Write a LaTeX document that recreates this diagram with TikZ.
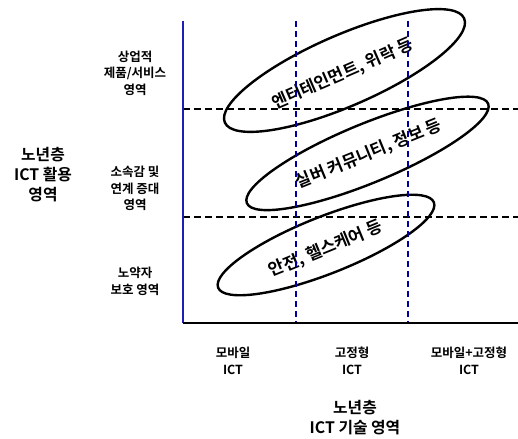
\documentclass[tikz,border=0pt]{standalone}
\usepackage{fontspec}
\setmainfont{Noto Sans CJK KR}
\newfontfamily\krb{Noto Sans CJK KR Bold}
\usetikzlibrary{shapes.geometric}
\definecolor{axisblue}{RGB}{30,30,180}
\definecolor{dashblue}{RGB}{0,0,160}
\tikzset{
  lab/.style={font=\krb\fontsize{12.5}{16.5}\selectfont, align=center, inner sep=0},
  biglab/.style={font=\krb\fontsize{15.8}{20}\selectfont, align=center, inner sep=0},
  oval/.style={draw, ellipse, line width=2.4pt, inner sep=0},
  ovtext/.style={font=\krb\fontsize{16.8}{18}\selectfont, inner sep=0},
  hdash/.style={draw=black, line width=2pt, dash pattern=on 7pt off 4pt},
  vdash/.style={draw=dashblue, line width=2pt, dash pattern=on 6pt off 4pt},
}
\begin{document}
\begin{tikzpicture}[x=1pt,y=-1pt]
\fill[white] (0,0) rectangle (518,438);
\useasboundingbox (0,0) rectangle (518,438);
% axes coordinates
\coordinate (O) at (183,323);
\coordinate (ytop) at (183,21);
\coordinate (xend) at (518,323);
\coordinate (h1l) at (183,109);
\coordinate (h1r) at (518,109);
\coordinate (h2l) at (183,217);
\coordinate (h2r) at (518,217);
\coordinate (v1t) at (296,21);
\coordinate (v1b) at (296,323);
\coordinate (v2t) at (408,21);
\coordinate (v2b) at (408,323);
% ellipses
\node[oval, minimum width=261pt, minimum height=71pt, rotate=23.5] (e1) at (344.5,70.5) {};
\node[oval, minimum width=261pt, minimum height=59pt, rotate=22.4] (e2) at (367.5,153.4) {};
\node[oval, minimum width=232pt, minimum height=57pt, rotate=21.6] (e3) at (326,245) {};
\node[ovtext, rotate=23.4] (t1) at (343,74) {엔터테인먼트, 위락 등};
\node[ovtext, rotate=22.2] (t2) at (369,154) {실버 커뮤니티, 정보 등};
\node[ovtext, rotate=22.3] (t3) at (326,249) {안전, 헬스케어 등};
% grid lines
\draw[hdash] (h1l) -- (h1r);
\draw[hdash] (h2l) -- (h2r);
\draw[vdash] (v1t) -- (v1b);
\draw[vdash] (v2t) -- (v2b);
% axes
\draw[axisblue, line width=2pt] (ytop) -- (O);
\draw[black, line width=2pt] (O) -- (xend);
% left labels
\node[lab] (l1) at (135,73) {상업적\\제품/서비스\\영역};
\node[lab] (l2) at (135,188.7) {소속감 및\\연계 증대\\영역};
\node[lab] (l3) at (135,281.5) {노약자\\보호 영역};
\node[biglab] (ly) at (43,175) {노년층\\ICT 활용\\영역};
% bottom labels
\node[lab] (b1) at (233,361) {모바일\\ICT};
\node[lab] (b2) at (352,361) {고정형\\ICT};
\node[lab] (b3) at (469,361) {모바일+고정형\\ICT};
\node[biglab] (lx) at (355,418) {노년층\\ICT 기술 영역};
\end{tikzpicture}
\end{document}
